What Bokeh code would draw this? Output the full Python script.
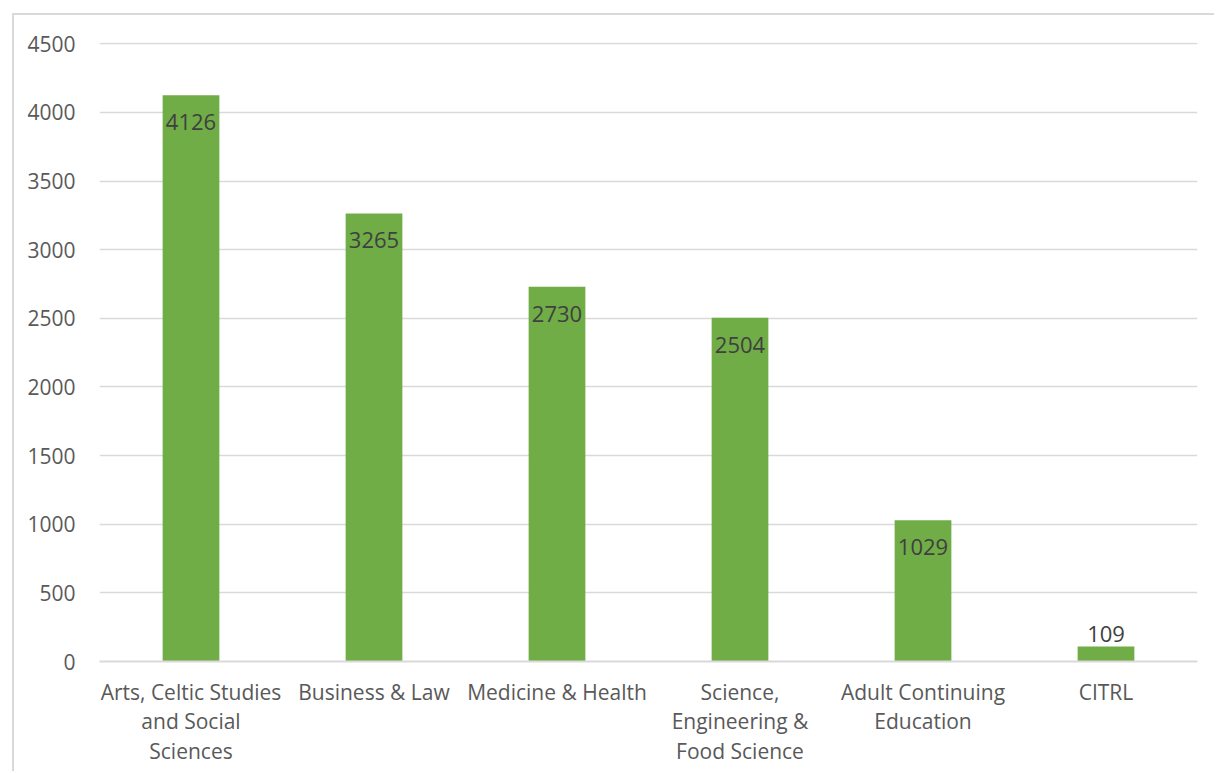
from bokeh.plotting import figure
from bokeh.models import Range1d, ColumnDataSource
from bokeh.core.properties import value
from bokeh.embed import file_html
from bokeh.resources import INLINE

categories = ["Arts, Celtic Studies\nand Social\nSciences", "Business & Law", "Medicine & Health",
              "Science,\nEngineering &\nFood Science", "Adult Continuing\nEducation", "CITRL"]
counts = [4126, 3265, 2730, 2504, 1029, 109]
y_ticks = [0, 500, 1000, 1500, 2000, 2500, 3000, 3500, 4000, 4500]

FONT = "Open Sans"

p = figure(x_range=categories, y_range=Range1d(0, 4510), width=1202, height=758,
           output_backend="svg", toolbar_location=None,
           min_border_left=85, min_border_right=19, min_border_top=27, min_border_bottom=112)
p.margin = (13, 0, 0, 12)
p.styles = {"border-left": "2px solid #d9d9d9", "border-top": "2px solid #d9d9d9"}
p.outline_line_color = None

src = ColumnDataSource(dict(cat=categories, val=counts))
p.vbar(x="cat", top="val", width=0.31, source=src, color="#70ad47", line_color=None)

inside = ColumnDataSource(dict(cat=[c for c, v in zip(categories, counts) if v >= 500],
                               val=[v for v in counts if v >= 500],
                               lbl=[str(v) for v in counts if v >= 500]))
outside = ColumnDataSource(dict(cat=[c for c, v in zip(categories, counts) if v < 500],
                                val=[v for v in counts if v < 500],
                                lbl=[str(v) for v in counts if v < 500]))
p.text(x="cat", y="val", text="lbl", source=inside, text_align="center", text_baseline="top",
       y_offset=19, text_font=value(FONT), text_font_size="22px", text_color="#404040")
p.text(x="cat", y="val", text="lbl", source=outside, text_align="center", text_baseline="bottom",
       y_offset=-5, text_font=value(FONT), text_font_size="22px", text_color="#404040")

p.yaxis.ticker = y_ticks
p.yaxis.axis_line_color = None
p.yaxis.major_tick_line_color = None
p.yaxis.minor_tick_line_color = None
p.yaxis.major_label_standoff = 18
p.yaxis.major_label_text_font = FONT
p.yaxis.major_label_text_font_size = "21px"
p.yaxis.major_label_text_color = "#595959"

p.xaxis.axis_line_color = "#d9d9d9"
p.xaxis.axis_line_width = 2
p.xaxis.major_tick_line_color = None
p.xaxis.minor_tick_line_color = None
p.xaxis.major_label_standoff = 10
p.xaxis.major_label_text_font = FONT
p.xaxis.major_label_text_font_size = "21px"
p.xaxis.major_label_text_color = "#595959"
p.xaxis.major_label_text_line_height = 1.06

p.xgrid.grid_line_color = None
p.ygrid.grid_line_color = "#d9d9d9"
p.ygrid.grid_line_width = 1.5

open("out.html", "w").write(file_html(p, INLINE))
